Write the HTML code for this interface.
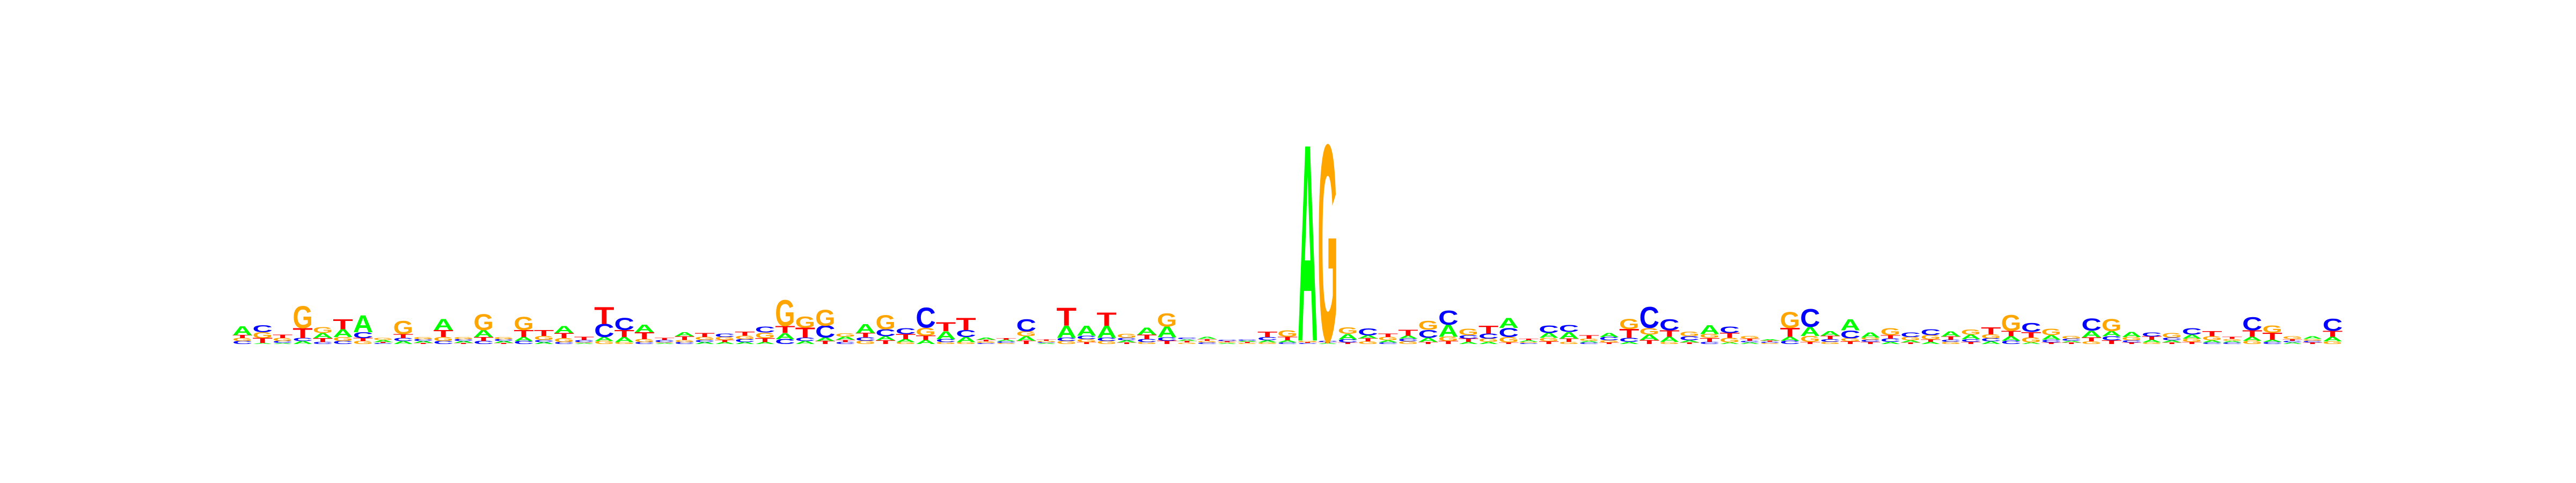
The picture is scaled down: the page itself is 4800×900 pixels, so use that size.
<!DOCTYPE html>
<html>
<head>
<meta charset="utf-8">
<style>
html,body{margin:0;padding:0;background:#fff;}
svg{display:block;}
</style>
</head>
<body>
<svg id="logo" width="4800" height="900" viewBox="0 0 4800 900" xmlns="http://www.w3.org/2000/svg">
<rect x="0" y="0" width="4800" height="900" fill="#ffffff"/>
<g id="stacks"></g>
</svg>
<script>
// information content (bits) per position for each nucleotide
const bitsA = [.09,.01,.01,.03,.05,.08,.17,.02,.03,.02,.11,.02,.07,.02,.04,.02,.07,.01,.04,.05,.075,.01,.04,.02,.02,.02,.02,.06,.03,.035,.03,.09,.04,.03,.04,.08,.05,.02,.017,.045,.01,.12,.10,.12,.022,.07,.11,.017,.022,.01,.012,.022,.022,1.96,.01,.055,.03,.022,.029,.04,.12,.022,.022,.10,.016,.05,.066,.017,.04,.022,.055,.05,.022,.09,.016,.016,.015,.04,.09,.045,.11,.05,.022,.022,.022,.05,.045,.028,.045,.016,.045,.017,.066,.05,.05,.028,.022,.04,.022,.017,.04,.022,.016,.028,.045];
const bitsC = [.03,.07,.02,.03,.02,.03,.06,.01,.03,.02,.03,.02,.03,.02,.03,.02,.02,.02,.13,.12,.02,.02,.02,.02,.035,.03,.06,.05,.035,.12,.02,.034,.07,.06,.20,.03,.07,.01,.016,.12,.01,.033,.033,.033,.023,.03,.034,.018,.016,.012,.013,.03,.017,.01,.012,.03,.07,.016,.028,.08,.14,.034,.05,.09,.01,.075,.07,.016,.033,.04,.21,.11,.04,.022,.066,.017,.012,.033,.18,.028,.08,.022,.033,.045,.06,.022,.028,.029,.033,.09,.028,.022,.12,.04,.022,.04,.028,.066,.016,.016,.13,.021,.017,.017,.12];
const bitsG = [.03,.06,.03,.22,.06,.04,.03,.02,.13,.02,.04,.02,.16,.02,.13,.04,.04,.01,.03,.02,.03,.01,.02,.03,.03,.035,.055,.26,.11,.16,.035,.033,.14,.02,.08,.02,.02,.016,.01,.05,.012,.03,.03,.03,.04,.02,.13,.015,.017,.01,.01,.017,.066,.015,1.96,.066,.028,.033,.027,.09,.044,.066,.033,.055,.011,.033,.022,.022,.022,.10,.066,.022,.045,.04,.045,.028,.01,.16,.06,.022,.029,.023,.07,.033,.045,.021,.05,.04,.16,.05,.066,.028,.028,.12,.033,.016,.045,.033,.04,.018,.033,.072,.028,.018,.028];
const bitsT = [.03,.05,.035,.10,.04,.10,.03,.01,.04,.01,.07,.01,.04,.01,.07,.06,.05,.03,.17,.07,.07,.02,.038,.04,.02,.04,.04,.07,.10,.03,.022,.045,.038,.05,.045,.09,.12,.017,.018,.033,.013,.18,.02,.13,.016,.045,.033,.016,.018,.01,.011,.055,.033,.01,.01,.017,.029,.034,.06,.022,.03,.033,.08,.016,.017,.028,.033,.033,.016,.09,.04,.066,.016,.039,.05,.022,.013,.09,.022,.033,.028,.021,.034,.016,.023,.033,.022,.07,.055,.055,.016,.016,.04,.039,.016,.033,.016,.022,.05,.019,.066,.07,.018,.016,.06];
const letters = ["A","C","G","T"];
const colors = {A:"#00ff00", C:"#0000ff", G:"#ffa500", T:"#ff0000"};

const X0 = 433, COLW = 37.45, BASE = 641, PX_PER_BIT = 185, CAP = 69;
function xPos(i){ return X0 + i*COLW; }
function yBits(b){ return b*PX_PER_BIT; }

const g = document.getElementById('stacks');
const NS = "http://www.w3.org/2000/svg";
const series = [bitsA, bitsC, bitsG, bitsT];
for (let i = 0; i < bitsA.length; i++) {
  const col = document.createElementNS(NS, 'g');
  
  
  const items = letters.map((l, k) => ({l: l, v: series[k][i]})).sort((a, b) => a.v - b.v);
  let y = BASE;
  items.forEach(it => {
    const h = yBits(it.v);
    if (h <= 0) return;
    const t = document.createElementNS(NS, 'text');
    
    
    t.setAttribute('x', 0);
    t.setAttribute('y', 0);
    t.setAttribute('font-family', '"Liberation Sans", Arial, sans-serif');
    t.setAttribute('font-weight', 'bold');
    t.setAttribute('font-size', '100');
    t.setAttribute('fill', colors[it.l]);
    t.setAttribute('textLength', COLW);
    t.setAttribute('lengthAdjust', 'spacingAndGlyphs');
    t.setAttribute('transform', 'translate(' + xPos(i) + ',' + y + ') scale(1,' + (h / CAP) + ')');
    t.textContent = it.l;
    col.appendChild(t);
    y -= h;
  });
  g.appendChild(col);
}
</script>
</body>
</html>
